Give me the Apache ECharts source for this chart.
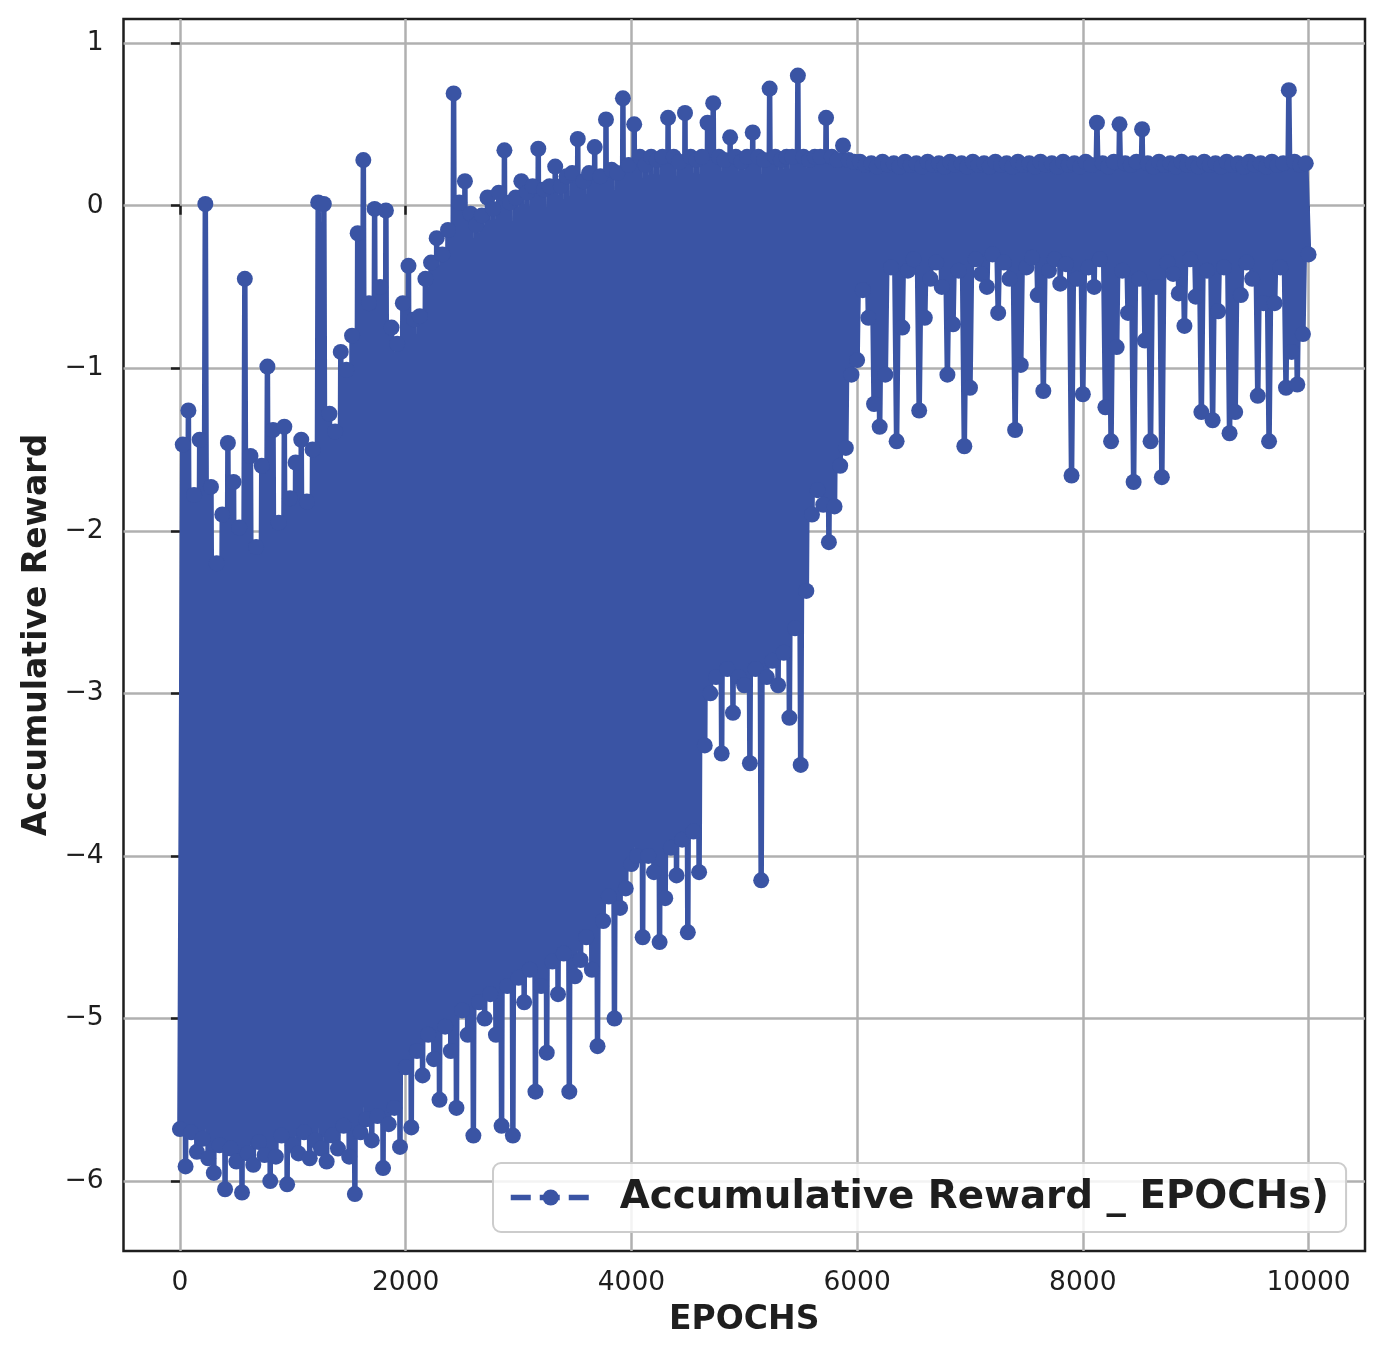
<!DOCTYPE html>
<html>
<head>
<meta charset="utf-8">
<script src="https://cdn.jsdelivr.net/npm/echarts@6/dist/echarts.min.js"></script>
<style>
html,body{margin:0;padding:0;background:#fff;}
#chart{width:1384px;height:1362px;}
</style>
</head>
<body>
<div id="chart"></div>
<script>
// ---- data, one value every EPOCH_STEP epochs ----
const EPOCH_STEP = 25;
const seriesName = 'Accumulative Reward _ EPOCHs)';
const xTicks = [0, 2000, 4000, 6000, 8000, 10000];
const yTicks = [-6, -5, -4, -3, -2, -1, 0, 1];

const rewardsBlock0 = [ // epochs 0 - 975
  -5.68, -1.47, -5.91, -1.26, -5.70, -1.78, -5.82, -1.44, -5.74,  0.01,
  -5.86, -1.73, -5.95, -2.20, -5.78, -1.90, -6.05, -1.46, -5.80, -1.70,
  -5.88, -1.98, -6.07, -0.45, -5.83, -1.54, -5.90, -2.10, -5.76, -1.60,
  -5.84, -0.99, -6.00, -1.38, -5.85, -1.95, -5.72, -1.36, -6.02, -1.80
];
const rewardsBlock1 = [ // epochs 1000 - 1975
  -5.78, -1.58, -5.83, -1.44, -5.70, -1.82, -5.86, -1.50, -5.75,  0.02,
  -5.80,  0.01, -5.88, -1.28, -5.72, -1.39, -5.80, -0.90, -5.66, -1.01,
  -5.85, -0.80, -6.08, -0.17, -5.70,  0.28, -5.62, -0.60, -5.75, -0.02,
  -5.60, -0.50, -5.92, -0.03, -5.65, -0.75, -5.55, -0.85, -5.79, -0.60
];
const rewardsBlock2 = [ // epochs 2000 - 2975
  -5.30, -0.37, -5.67, -0.70, -5.20, -0.68, -5.35, -0.45, -5.10, -0.35,
  -5.25, -0.20, -5.50, -0.30, -5.05, -0.15, -5.20,  0.69, -5.55,  0.02,
  -4.95,  0.15, -5.10, -0.05, -5.72, -0.12, -4.90, -0.06, -5.00,  0.05,
  -4.85, -0.02, -5.10,  0.08, -5.66,  0.34, -4.80,  0.02, -5.72,  0.05
];
const rewardsBlock3 = [ // epochs 3000 - 3975
  -4.75,  0.15, -4.90,  0.08, -4.70,  0.12, -5.45,  0.35, -4.80,  0.10,
  -5.21,  0.12, -4.65,  0.24, -4.85,  0.12, -4.60,  0.18, -5.45,  0.20,
  -4.74,  0.41, -4.64,  0.15, -4.50,  0.20, -4.70,  0.36, -5.17,  0.18,
  -4.40,  0.53, -4.25,  0.22, -5.00,  0.20, -4.32,  0.66, -4.20,  0.25
];
const rewardsBlock4 = [ // epochs 4000 - 4975
  -4.05,  0.50, -4.00,  0.30, -4.50,  0.25, -4.00,  0.30, -4.10,  0.28,
  -4.53,  0.30, -4.26,  0.54, -3.95,  0.30, -4.12,  0.27, -3.90,  0.57,
  -4.47,  0.30, -3.85,  0.28, -4.10,  0.30, -3.32,  0.51, -3.00,  0.63,
  -2.90,  0.30, -3.37,  0.28, -2.85,  0.42, -3.12,  0.30, -2.90,  0.27
];
const rewardsBlock5 = [ // epochs 5000 - 5975
  -2.95,  0.30, -3.43,  0.45, -2.85,  0.30, -4.15,  0.28, -2.90,  0.72,
  -2.80,  0.30, -2.95,  0.28, -2.75,  0.30, -3.15,  0.30, -2.60,  0.80,
  -3.44,  0.30, -2.37,  0.28, -1.90,  0.30, -1.75,  0.30, -1.84,  0.54,
  -2.07,  0.30, -1.85,  0.28, -1.60,  0.37, -1.49,  0.28, -1.04,  0.27
];
const rewardsBlock6 = [ // epochs 6000 - 6975
  -0.95,  0.27, -0.52,  0.25, -0.69,  0.26, -1.22,  0.24, -1.36,  0.27,
  -1.04,  0.25, -0.38,  0.26, -1.45,  0.24, -0.75,  0.27, -0.40,  0.25,
  -0.33,  0.26, -1.26,  0.24, -0.69,  0.27, -0.45,  0.25, -0.35,  0.26,
  -0.50,  0.24, -1.04,  0.27, -0.73,  0.25, -0.40,  0.26, -1.48,  0.24
];
const rewardsBlock7 = [ // epochs 7000 - 7975
  -1.12,  0.27, -0.33,  0.25, -0.42,  0.26, -0.50,  0.24, -0.30,  0.27,
  -0.66,  0.25, -0.35,  0.26, -0.45,  0.24, -1.38,  0.27, -0.98,  0.25,
  -0.38,  0.26, -0.32,  0.24, -0.55,  0.27, -1.14,  0.25, -0.40,  0.26,
  -0.33,  0.24, -0.48,  0.27, -0.36,  0.25, -1.66,  0.26, -0.45,  0.24
];
const rewardsBlock8 = [ // epochs 8000 - 8975
  -1.16,  0.27, -0.38,  0.25, -0.50,  0.51, -0.33,  0.26, -1.24,  0.24,
  -1.45,  0.27, -0.87,  0.50, -0.40,  0.26, -0.66,  0.25, -1.70,  0.27,
  -0.45,  0.47, -0.83,  0.26, -1.45,  0.24, -0.50,  0.27, -1.67,  0.25,
  -0.35,  0.26, -0.42,  0.24, -0.54,  0.27, -0.74,  0.25, -0.33,  0.26
];
const rewardsBlock9 = [ // epochs 9000 - 10000
  -0.56,  0.24, -1.27,  0.27, -0.40,  0.25, -1.32,  0.26, -0.65,  0.24,
  -0.38,  0.27, -1.40,  0.25, -1.27,  0.26, -0.55,  0.24, -0.35,  0.27,
  -0.45,  0.25, -1.17,  0.26, -0.60,  0.24, -1.45,  0.27, -0.60,  0.25,
  -0.38,  0.26, -1.12,  0.71, -0.90,  0.27, -1.10,  0.25, -0.79,  0.26,
  -0.30
];

const rewards = [].concat(rewardsBlock0, rewardsBlock1, rewardsBlock2, rewardsBlock3,
  rewardsBlock4, rewardsBlock5, rewardsBlock6, rewardsBlock7, rewardsBlock8, rewardsBlock9);
const seriesData = rewards.map((v, i) => [i * EPOCH_STEP, v]);

// ---- chart ----
const BLUE = '#3a54a4';
const INK = '#1e1e1e';
const chart = echarts.init(document.getElementById('chart'), null, {renderer: 'canvas'});
const fmt = v => (v < 0 ? '\u2212' + Math.abs(v) : String(v));

chart.setOption({
  animation: false,
  backgroundColor: '#ffffff',
  textStyle: {fontFamily: 'DejaVu Sans'},
  grid: {
    left: 123.5, right: 19, top: 19, bottom: 111,
    show: true, borderColor: INK, borderWidth: 2.5, backgroundColor: 'transparent'
  },
  xAxis: {
    type: 'value', min: -500, max: 10500,
    name: 'EPOCHS', nameLocation: 'middle', nameGap: 53,
    nameTextStyle: {fontFamily: 'DejaVu Sans', fontWeight: 'bold', fontSize: 33, color: INK},
    axisLine: {show: false},
    axisTick: {show: true, length: 9, inside: false, customValues: xTicks,
      lineStyle: {color: INK, width: 2.5}},
    axisLabel: {show: true, customValues: xTicks, margin: 19, formatter: fmt,
      fontFamily: 'DejaVu Sans', fontSize: 26.5, color: INK},
    splitLine: {show: true, lineStyle: {color: '#b0b0b0', width: 2.5}}
  },
  yAxis: {
    type: 'value', min: -6.43, max: 1.148,
    name: 'Accumulative Reward', nameLocation: 'middle', nameGap: 68,
    nameTextStyle: {fontFamily: 'DejaVu Sans', fontWeight: 'bold', fontSize: 33, color: INK},
    axisLine: {show: false},
    axisTick: {show: true, length: 9, inside: false, customValues: yTicks,
      lineStyle: {color: INK, width: 2.5}},
    axisLabel: {show: true, customValues: yTicks, margin: 20, formatter: fmt,
      fontFamily: 'DejaVu Sans', fontSize: 26.5, color: INK},
    splitLine: {show: true, lineStyle: {color: '#b0b0b0', width: 2.5}}
  },
  legend: {
    show: true,
    left: 493, top: 1163,
    padding: [15, 17, 15, 15],
    itemWidth: 80, itemHeight: 20,
    backgroundColor: 'rgba(255,255,255,0.85)',
    borderColor: '#cccccc', borderWidth: 2, borderRadius: 8,
    lineStyle: {color: BLUE, width: 5.5, type: [20, 9]},
    itemStyle: {color: BLUE},
    textStyle: {fontFamily: 'DejaVu Sans', fontWeight: 'bold', fontSize: 38.8, color: INK,
      padding: [0, 0, 0, 24]},
    data: [seriesName]
  },
  series: [{
    name: seriesName,
    type: 'line',
    data: seriesData,
    symbol: 'circle',
    symbolSize: 16,
    showAllSymbol: true,
    itemStyle: {color: BLUE, borderWidth: 0},
    lineStyle: {color: BLUE, width: 5.5, type: 'solid'},
    emphasis: {disabled: true},
    z: 3
  }]
});
</script>
</body>
</html>
